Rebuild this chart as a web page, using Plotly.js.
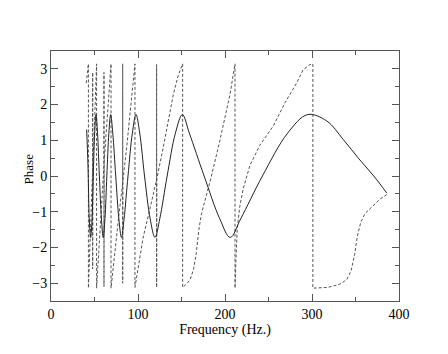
<!DOCTYPE html>
<html>
<head>
<meta charset="utf-8">
<script src="https://cdn.plot.ly/plotly-3.0.1.min.js"></script>
<style>
  html, body { margin: 0; padding: 0; background: #fff; }
  #chart { width: 448px; height: 354px; }
</style>
</head>
<body>
<div id="chart"></div>
<script>
// solid curve
const solidFreq = [41, 42.5, 44, 45.6, 47.2, 48.6, 50.2, 51.7, 53.5, 55.6, 58, 60, 62, 64.2, 66.5, 68.6, 71, 74.4, 78, 81, 84, 88.5, 93.5, 97.7, 102, 107.5, 114, 119.5, 125, 133.5, 143, 151, 159, 176, 194, 206, 218, 243, 272, 295, 317, 336, 355, 371, 386]
const solidPhase = [1.3, 0.3, -1.2, -1.72, -1.2, 0, 1.2, 1.72, 1.2, 0, -1.2, -1.72, -1.2, 0, 1.2, 1.72, 1.2, 0, -1.2, -1.72, -1.2, 0, 1.2, 1.72, 1.2, 0, -1.2, -1.72, -1.2, 0, 1.2, 1.72, 1.2, 0, -1.2, -1.72, -1.2, 0, 1.2, 1.72, 1.54, 1.02, 0.45, 0.0, -0.48]

// dashed (wrapped) curve, with its jumps and spikes
const dashFreq = [40.5, 43, 43, 45, 47.9, 47.9, 47.9, 48.1, 50.2, 52.4, 52.4, 55, 58, 60.9, 60.9, 60.9, 61.1, 64, 67, 69, 69, 73, 78, 82.4, 82.4, 82.4, 82.6, 87, 92, 96.5,
  96.5, 99, 102, 106, 112, 117.6, 121.4, 121.4, 121.4, 121.6, 129, 135, 140.6, 146, 151.3,
  151.3, 156, 160, 164, 167, 170, 173, 177, 183, 194, 205.7, 211.5,
  211.5, 212.5, 214, 217, 221, 228.7, 240, 255.5, 269, 282.4, 290, 297.7, 301,
  301, 303, 318, 332, 340, 345, 349, 352, 356, 361, 370, 378, 386]
const dashPhase = [2.6, 3.14, -3.14, -1.8, 0.2, 2.9, -2.6, 0.3, 1.6, 3.14, -3.14, -2.0, -0.8, 0.3, 2.9, -3.1, 0.4, 1.4, 2.5, 3.14, -3.14, -2.2, -1.1, -0.2, 3.14, -3.0, -0.15, 0.8, 2.0, 3.14,
  -3.12, -2.75, -2.27, -1.71, -1.1, -0.51, -0.1, 3.12, -3.12, -0.08, 0.8, 1.55, 2.28, 2.8, 3.14,
  -3.12, -3.02, -2.9, -2.6, -2.15, -1.5, -1.05, -0.7, -0.14, 0.98, 2.28, 3.14,
  -3.14, -2.4, -1.5, -0.85, -0.35, 0.3, 0.86, 1.4, 2.05, 2.61, 2.98, 3.12, 3.14,
  -3.14, -3.14, -3.12, -3.03, -2.9, -2.65, -2.2, -1.7, -1.3, -1.05, -0.85, -0.65, -0.52]

const xTickVals = [0, 100, 200, 300, 400]
const yTickVals = [-3, -2, -1, 0, 1, 2, 3]

const container = document.getElementById('chart')

const dashed = {
  x: dashFreq,
  y: dashPhase,
  type: 'scatter',
  mode: 'lines',
  line: { color: '#555', width: 1, dash: '3px,2px' },
  hoverinfo: 'skip'
}

const solid = {
  x: solidFreq,
  y: solidPhase,
  type: 'scatter',
  mode: 'lines',
  line: { color: '#222', width: 1, shape: 'spline', smoothing: 1 }
}

const axisCommon = {
  showgrid: false,
  zeroline: false,
  showline: true,
  linecolor: '#555',
  linewidth: 1,
  mirror: 'ticks',
  ticks: 'inside',
  ticklen: 7,
  tickcolor: '#555',
  tickfont: { family: 'Liberation Serif, serif', size: 14, color: '#000' }
}

const layout = {
  width: 448,
  height: 354,
  margin: { l: 51, r: 49, t: 51, b: 53 },
  paper_bgcolor: '#fff',
  plot_bgcolor: '#fff',
  showlegend: false,
  font: { family: 'Liberation Serif, serif', color: '#000' },
  xaxis: Object.assign({}, axisCommon, {
    range: [0, 400],
    tickvals: xTickVals,
    minor: { dtick: 50, ticks: 'inside', ticklen: 4, tickcolor: '#555' },
    title: { text: 'Frequency (Hz.)', font: { size: 14 }, standoff: 0 }
  }),
  yaxis: Object.assign({}, axisCommon, {
    range: [-3.5, 3.5],
    tickvals: yTickVals,
    minor: { dtick: 0.5, ticks: 'inside', ticklen: 4, tickcolor: '#555' }
  }),
  annotations: [{
    text: 'Phase',
    textangle: -90,
    xref: 'paper', yref: 'paper',
    x: -0.065, y: 0.528,
    xanchor: 'center',
    showarrow: false,
    font: { size: 13 }
  }]
}

Plotly.newPlot(container, [dashed, solid], layout, { displayModeBar: false, staticPlot: true })
</script>
</body>
</html>
